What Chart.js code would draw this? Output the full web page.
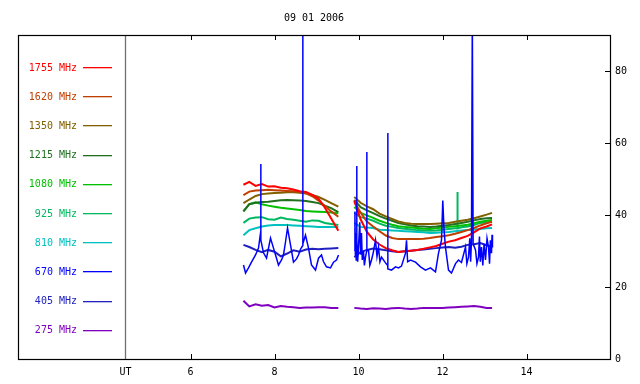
<!DOCTYPE html>
<html><head><meta charset="utf-8">
<script src="https://cdn.jsdelivr.net/npm/chart.js@4/dist/chart.umd.min.js"></script>
<style>html,body{margin:0;padding:0;background:#fff}#wrap{width:640px;height:384px}</style>
</head><body><div id="wrap"><canvas id="c" width="640" height="384"></canvas></div>
<script>
// ---------- data ----------
const chartTitle = '09 01 2006';
const freqLabels = ['1755 MHz','1620 MHz','1350 MHz','1215 MHz','1080 MHz','925 MHz','810 MHz','670 MHz','405 MHz','275 MHz'];
const xTickVals = [6, 8, 10, 12, 14];
const yTickVals = [0, 20, 40, 60, 80];
const utMarker = 4.45;

const timeUT = [7.26,7.4,7.55,7.7,7.85,8.0,8.15,8.3,8.45,8.6,8.75,8.9,9.05,9.2,9.35,9.52,
  9.7,
  9.9,10.05,10.2,10.35,10.5,10.65,10.8,10.95,11.1,11.25,11.4,11.55,11.7,11.85,12.0,12.15,12.3,12.45,12.6,12.75,12.9,13.05,13.18];

const mhz1755 = [48.4,49.2,48.1,48.6,47.9,48.0,47.6,47.4,47.1,46.6,46.4,45.6,44.5,42.0,39.0,35.6,
  null,
  44.0,38.8,35.3,33.2,31.8,30.8,30.2,29.7,29.9,30.1,30.3,30.6,31.0,31.4,32.0,32.6,33.0,33.6,34.2,35.2,36.3,36.8,37.4];
const mhz1620 = [45.5,46.5,46.8,46.9,47.0,46.9,46.8,46.7,46.6,46.4,46.0,45.2,44.0,42.5,41.0,39.5,
  null,
  43.6,40.7,38.2,36.8,35.5,34.3,33.6,33.3,33.3,33.3,33.3,33.4,33.6,33.9,34.1,34.4,34.8,35.3,35.8,36.4,37.1,37.7,38.1];
const mhz1350 = [43.3,44.3,45.3,45.8,46.0,46.1,46.2,46.3,46.3,46.2,46.0,45.6,45.0,44.2,43.3,42.3,
  null,
  45.0,43.4,42.4,41.6,40.4,39.6,38.9,38.2,37.8,37.6,37.5,37.5,37.5,37.6,37.7,37.8,38.1,38.4,38.7,39.1,39.6,40.1,40.6];
const mhz1215 = [41.0,43.0,43.4,43.6,43.7,43.9,44.1,44.2,44.1,44.0,43.9,43.6,43.3,42.6,41.9,40.8,
  null,
  44.2,42.2,41.3,40.5,39.7,39.0,38.4,37.8,37.4,37.1,36.9,36.8,36.7,36.8,37.0,37.2,37.5,37.8,38.1,38.5,38.9,39.1,39.2];
const mhz1080 = [41.0,43.0,43.5,43.0,42.6,42.3,42.0,41.8,41.6,41.4,41.1,41.0,40.9,40.8,40.7,40.5,
  null,
  42.2,40.6,39.9,39.2,38.4,37.8,37.3,36.9,36.7,36.5,36.4,36.2,36.1,36.3,36.5,36.7,36.9,37.1,37.3,37.7,38.1,38.4,38.6];
const mhz925 = [37.8,39.0,39.3,39.4,38.8,38.7,39.3,38.9,38.7,38.4,38.1,38.5,38.4,37.8,37.5,37.2,
  null,
  40.6,39.4,39.0,38.4,37.6,37.0,36.7,36.4,36.2,36.0,35.8,35.7,35.6,35.7,35.9,36.1,36.3,36.6,36.8,37.2,37.8,38.0,38.1];
const mhz810 = [34.4,35.8,36.3,36.8,37.1,37.2,37.2,37.2,37.1,37.0,36.9,36.8,36.7,36.7,36.7,36.7,
  null,
  37.8,36.7,36.5,36.4,35.9,35.8,35.7,35.6,35.5,35.4,35.3,35.2,35.0,35.1,35.2,35.3,35.5,35.7,35.8,36.0,36.1,36.3,36.4];
const mhz405 = [31.7,31.1,30.3,29.7,30.3,29.8,28.5,29.3,30.2,29.8,30.4,30.6,30.5,30.6,30.7,30.8,
  null,
  28.3,29.7,30.3,30.7,30.5,30.2,29.9,29.7,29.9,30.1,30.3,30.4,30.6,30.8,31.0,31.1,30.9,31.2,31.7,31.9,32.2,31.6,31.1];
const mhz275 = [16.2,14.6,15.2,14.8,15.0,14.3,14.7,14.5,14.4,14.2,14.3,14.3,14.4,14.4,14.2,14.2,
  null,
  14.2,14.0,13.9,14.1,14.0,13.9,14.1,14.2,14.0,13.9,14.0,14.2,14.2,14.2,14.2,14.3,14.4,14.5,14.6,14.7,14.5,14.2,14.2];

// 670 MHz is sampled more finely (noisy, with spikes)
const time670a = [7.262,7.310,7.381,7.452,7.548,7.619,7.671,7.674,7.676,7.738,
  7.810,7.905,7.976,8.048,8.095,8.167,8.214,8.262,8.310,8.381,
  8.452,8.524,8.571,8.619,8.671,8.674,8.676,8.738,8.810,8.881,
  8.976,9.048,9.119,9.167,9.238,9.333,9.405,9.476,9.524];
const mhz670a = [26.1,23.9,25.3,26.9,28.9,30.8,35.3,54.2,33.0,29.5,
  28.0,33.6,30.8,28.0,26.1,27.5,28.9,32.5,36.4,31.7,
  26.9,27.8,28.9,30.5,31.5,95,32.0,34.4,30.8,26.1,
  24.7,28.0,28.9,27.0,25.6,25.3,26.9,27.5,28.9];
const time670b = [9.905,9.915,9.925,9.935,9.945,9.957,9.960,9.962,9.980,10.000,
  10.030,10.050,10.071,10.090,10.119,10.140,10.167,10.195,10.198,10.200,
  10.238,10.270,10.310,10.350,10.405,10.440,10.476,10.510,10.548,10.643,
  10.695,10.698,10.700,10.786,10.881,10.952,11.024,11.119,11.143,11.170,
  11.238,11.357,11.476,11.595,11.714,11.833,11.905,11.976,12.007,12.036,
  12.071,12.143,12.214,12.310,12.381,12.452,12.548,12.580,12.619,12.650,
  12.670,12.690,12.710,12.721,12.729,12.786,12.820,12.857,12.880,12.900,
  12.929,12.960,12.990,13.024,13.060,13.095,13.120,13.140,13.167,13.180,
  13.190];
const mhz670b = [30.0,41.0,29.0,35.0,27.5,36.0,53.6,33.0,27.0,31.1,
  38.0,29.0,35.0,27.5,30.0,26.0,28.3,30.0,57.5,30.3,
  30.3,26.0,27.5,29.5,33.0,28.5,31.1,27.0,28.3,26.7,
  26.0,62.8,25.0,24.7,25.6,25.3,25.8,29.4,33.0,27.0,
  27.5,26.9,25.6,24.7,25.3,24.2,29.4,33.0,44.0,36.0,
  31.0,24.7,23.9,26.5,27.5,26.8,31.1,26.5,28.3,33.5,
  27.0,33.0,95,95,32.0,30.3,26.5,28.3,34.0,27.0,
  31.1,26.0,32.0,27.5,33.5,31.1,26.5,33.0,29.4,34.5,
  31.0];

const spike925Time = [12.355, 12.357, 12.359];
const spike925Val = [36.3, 46.4, 36.3];

// ---------- styles ----------
const seriesColors = ['#ff0000','#c04000','#806000','#207020','#00c000','#00b860','#00c0c0','#0000ff','#2020c0','#8000c0'];
const FONT = '"DejaVu Sans Mono", "Liberation Mono", monospace';

function toPoints(ts, vs) { return ts.map((t, i) => ({ x: t, y: vs[i] })); }
function mergeSpike(ts, vs, sts, svs) {
  return toPoints(ts, vs).concat(toPoints(sts, svs)).sort((a, b) => a.x - b.x);
}
const time670 = time670a.concat([9.7], time670b);
const mhz670 = mhz670a.concat([null], mhz670b);

const seriesData = [
  toPoints(timeUT, mhz1755),
  toPoints(timeUT, mhz1620),
  toPoints(timeUT, mhz1350),
  toPoints(timeUT, mhz1215),
  toPoints(timeUT, mhz1080),
  mergeSpike(timeUT, mhz925, spike925Time, spike925Val),
  toPoints(timeUT, mhz810),
  toPoints(time670, mhz670),
  toPoints(timeUT, mhz405),
  toPoints(timeUT, mhz275)
];
const drawOrder = [1, 2, 3, 4, 5, 6, 7, 0, 8, 9];

const datasets = seriesData.map((d, i) => ({
  label: freqLabels[i],
  data: d,
  borderColor: seriesColors[i],
  backgroundColor: seriesColors[i],
  borderWidth: i === 7 ? 1.5 : 2,
  pointRadius: 0,
  tension: 0,
  spanGaps: false,
  order: drawOrder[i]
}));

const X_MIN = 6 - 172.5 / 42;
const X_MAX = X_MIN + 592 / 42;

const deco = {
  id: 'deco',
  beforeDatasetsDraw(chart) {
    const { ctx, chartArea: a, scales: { x } } = chart;
    const px = Math.round(x.getPixelForValue(utMarker)) + 0.5;
    ctx.save();
    ctx.strokeStyle = '#707070';
    ctx.lineWidth = 1.3;
    ctx.beginPath(); ctx.moveTo(px, a.top); ctx.lineTo(px, a.bottom); ctx.stroke();
    ctx.restore();
  },
  afterDraw(chart) {
    const { ctx, chartArea: a, scales: { x, y } } = chart;
    ctx.save();
    ctx.strokeStyle = '#000';
    ctx.lineWidth = 1.2;
    ctx.strokeRect(a.left + 0.5, a.top + 0.5, a.right - a.left, a.bottom - a.top);
    ctx.lineWidth = 1;
    ctx.beginPath();
    xTickVals.forEach(v => {
      const px = Math.round(x.getPixelForValue(v)) + 0.5;
      ctx.moveTo(px, a.bottom); ctx.lineTo(px, a.bottom - 5);
      ctx.moveTo(px, a.top); ctx.lineTo(px, a.top + 5);
    });
    yTickVals.forEach(v => {
      const py = Math.round(y.getPixelForValue(v)) + 0.5;
      ctx.moveTo(a.right + 0.5, py); ctx.lineTo(a.right - 5, py);
    });
    ctx.stroke();
    ctx.fillStyle = '#000';
    ctx.font = '10px ' + FONT;
    ctx.textAlign = 'center';
    ctx.textBaseline = 'middle';
    ctx.fillText(chartTitle, (a.left + a.right) / 2, 18);
    ctx.textAlign = 'right';
    freqLabels.forEach((lab, i) => {
      const yy = 68 + i * 29.2;
      ctx.fillStyle = seriesColors[i];
      ctx.fillText(lab, 77, yy);
      ctx.fillRect(83, Math.round(yy) - 1, 29, 1.3);
    });
    ctx.restore();
  }
};

new Chart(document.getElementById('c'), {
  type: 'line',
  data: { datasets },
  options: {
    responsive: false,
    animation: false,
    devicePixelRatio: 1,
    layout: { padding: { left: 18, top: 35, right: 0, bottom: 0 } },
    plugins: { legend: { display: false }, title: { display: false }, tooltip: { enabled: false } },
    scales: {
      x: {
        type: 'linear', min: X_MIN, max: X_MAX,
        afterBuildTicks: s => { s.ticks = [utMarker].concat(xTickVals).map(v => ({ value: v })); },
        afterFit: s => { s.height = 25; },
        grid: { display: false, drawTicks: false },
        border: { display: false },
        ticks: {
          autoSkip: false, maxRotation: 0, padding: 7, color: '#000',
          font: { family: FONT, size: 10 },
          callback: v => (v === utMarker ? 'UT' : String(v))
        }
      },
      y: {
        type: 'linear', position: 'right', min: 0, max: 90,
        afterBuildTicks: s => { s.ticks = yTickVals.map(v => ({ value: v })); },
        afterFit: s => { s.width = 30; },
        grid: { display: false, drawTicks: false },
        border: { display: false },
        ticks: { padding: 5, color: '#000', font: { family: FONT, size: 10 } }
      }
    }
  },
  plugins: [deco]
});
</script>
</body></html>
